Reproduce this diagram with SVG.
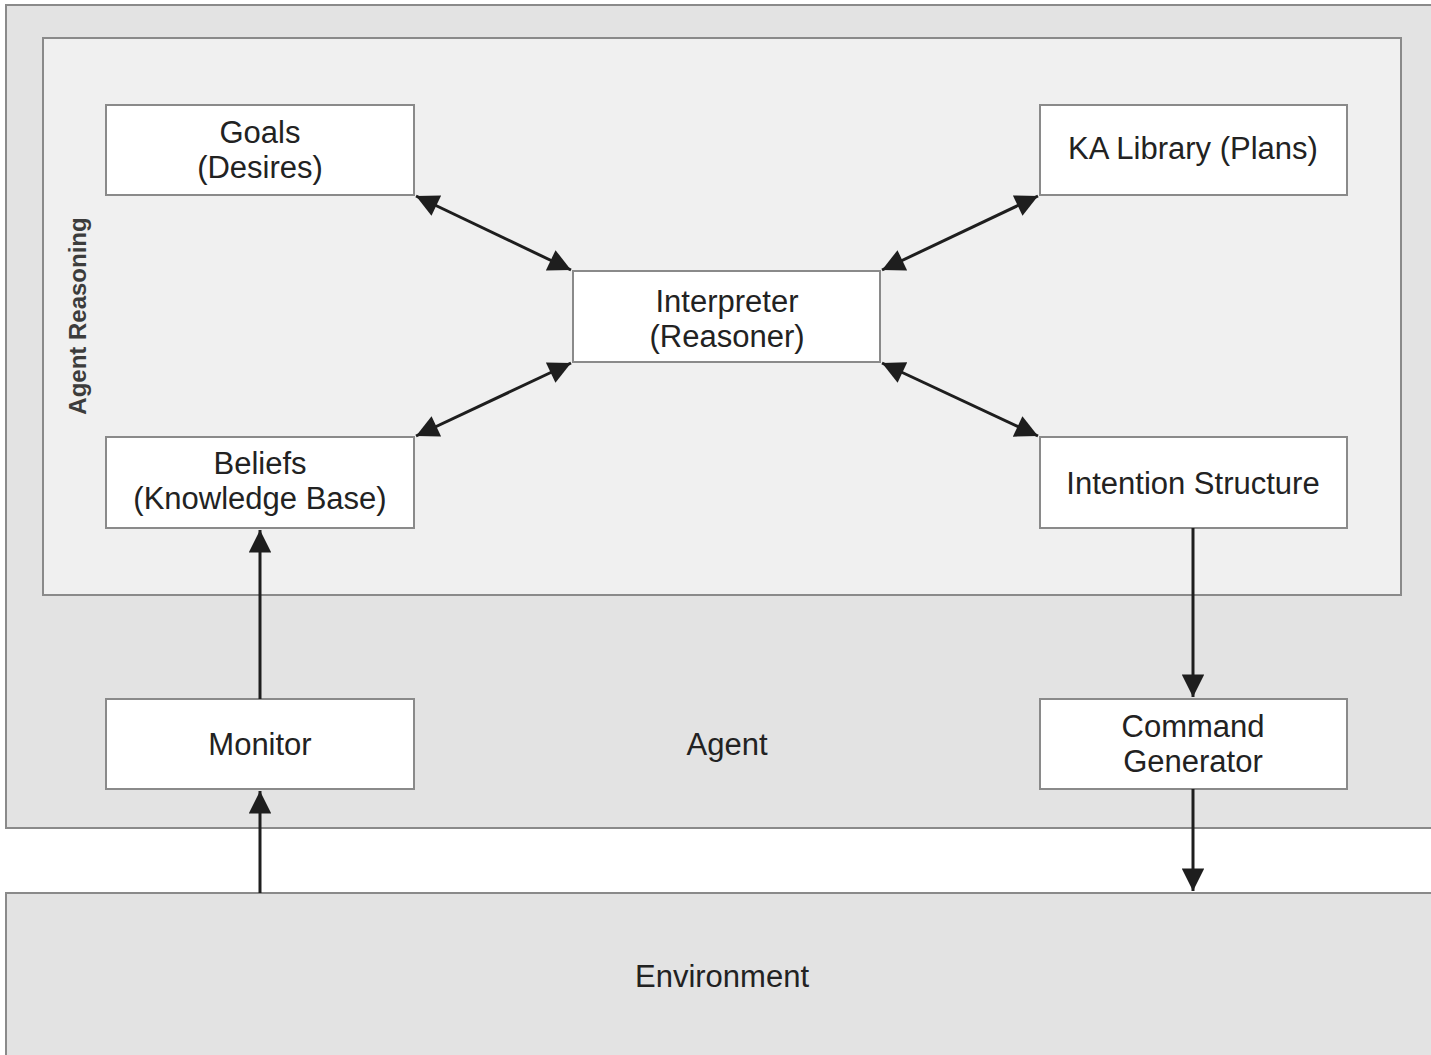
<svg xmlns="http://www.w3.org/2000/svg" width="1431" height="1055" viewBox="0 0 1431 1055">
  <style>
    .frame { fill: #e3e3e3; stroke: #8a8a8a; stroke-width: 2; }
    .inner { fill: #f0f0f0; stroke: #8a8a8a; stroke-width: 2; }
    .box { fill: #ffffff; stroke: #8a8a8a; stroke-width: 2; }
    .lbl { font-family: "Liberation Sans", Arial, sans-serif; font-size: 31px; fill: #222; text-anchor: middle; }
    .side { font-family: "Liberation Sans", Arial, sans-serif; font-size: 24px; font-weight: bold; fill: #3c3c3c; text-anchor: middle; }
    .wire { stroke: #1e1e1e; stroke-width: 3; fill: none; }
  </style>
  <defs>
    <marker id="head" viewBox="0 0 10 10" refX="10" refY="5" markerWidth="8" markerHeight="7.5" markerUnits="strokeWidth" orient="auto-start-reverse">
      <path d="M0,0 L10,5 L0,10 z" fill="#1e1e1e"/>
    </marker>
  </defs>

  <rect width="1431" height="1055" fill="#ffffff"/>

  <g id="agent">
    <rect class="frame" x="6" y="5" width="1432" height="823"/>
    <text class="lbl" x="727" y="755">Agent</text>
  </g>

  <g id="agent-reasoning">
    <rect class="inner" x="43" y="38" width="1358" height="557"/>
    <text class="side" transform="translate(86,316) rotate(-90)">Agent Reasoning</text>
  </g>

  <g id="environment">
    <rect class="frame" x="6" y="893" width="1432" height="170"/>
    <text class="lbl" x="722" y="987">Environment</text>
  </g>

  <g id="goals">
    <rect class="box" x="106" y="105" width="308" height="90"/>
    <text class="lbl" x="260" y="143">Goals</text>
    <text class="lbl" x="260" y="178">(Desires)</text>
  </g>

  <g id="ka-library">
    <rect class="box" x="1040" y="105" width="307" height="90"/>
    <text class="lbl" x="1193" y="159">KA Library (Plans)</text>
  </g>

  <g id="interpreter">
    <rect class="box" x="573" y="271" width="307" height="91"/>
    <text class="lbl" x="727" y="312">Interpreter</text>
    <text class="lbl" x="727" y="347">(Reasoner)</text>
  </g>

  <g id="beliefs">
    <rect class="box" x="106" y="437" width="308" height="91"/>
    <text class="lbl" x="260" y="474">Beliefs</text>
    <text class="lbl" x="260" y="509">(Knowledge Base)</text>
  </g>

  <g id="intention-structure">
    <rect class="box" x="1040" y="437" width="307" height="91"/>
    <text class="lbl" x="1193" y="494">Intention Structure</text>
  </g>

  <g id="monitor">
    <rect class="box" x="106" y="699" width="308" height="90"/>
    <text class="lbl" x="260" y="755">Monitor</text>
  </g>

  <g id="command-generator">
    <rect class="box" x="1040" y="699" width="307" height="90"/>
    <text class="lbl" x="1193" y="737">Command</text>
    <text class="lbl" x="1193" y="772">Generator</text>
  </g>

  <g id="connectors">
    <line class="wire" x1="416" y1="196" x2="571" y2="270" marker-start="url(#head)" marker-end="url(#head)"/>
    <line class="wire" x1="1038" y1="196" x2="882" y2="270" marker-start="url(#head)" marker-end="url(#head)"/>
    <line class="wire" x1="416" y1="436" x2="571" y2="363" marker-start="url(#head)" marker-end="url(#head)"/>
    <line class="wire" x1="1038" y1="436" x2="882" y2="363" marker-start="url(#head)" marker-end="url(#head)"/>
    <line class="wire" x1="260" y1="699" x2="260" y2="530" marker-end="url(#head)"/>
    <line class="wire" x1="260" y1="893" x2="260" y2="791" marker-end="url(#head)"/>
    <line class="wire" x1="1193" y1="528" x2="1193" y2="697" marker-end="url(#head)"/>
    <line class="wire" x1="1193" y1="789" x2="1193" y2="891" marker-end="url(#head)"/>
  </g>
</svg>
